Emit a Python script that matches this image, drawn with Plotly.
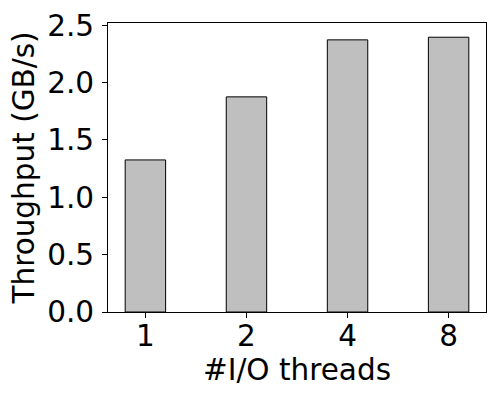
import plotly.graph_objs as go

THREADS = ["1", "2", "4", "8"]
THROUGHPUT = [1.326, 1.876, 2.373, 2.396]
Y_TICKS = [0.0, 0.5, 1.0, 1.5, 2.0, 2.5]

FONT = "DejaVu Sans"
SIZE = 29.5

fig = go.Figure()
fig.add_trace(go.Bar(
    x=list(range(len(THREADS))), y=THROUGHPUT, width=0.4,
    marker=dict(color="#bfbfbf", line=dict(color="black", width=1)),
))
fig.layout = go.Layout(
    width=500, height=400,
    margin=dict(l=108, r=14, t=23, b=88),
    paper_bgcolor="white", plot_bgcolor="white",
    font=dict(family=FONT, size=SIZE, color="black"),
    showlegend=False,
    xaxis=dict(
        title=dict(text="#I/O threads", standoff=3, font=dict(size=SIZE)),
        tickmode="array", tickvals=list(range(len(THREADS))), ticktext=THREADS,
        tickfont=dict(size=SIZE), ticklabelstandoff=-7,
        range=[-0.37, 3.37], automargin=False,
        showline=True, linecolor="black", linewidth=1, mirror=True,
        ticks="outside", ticklen=5, tickcolor="black", showgrid=False, zeroline=False,
    ),
    yaxis=dict(
        title=dict(text="Throughput (GB/s)", standoff=3, font=dict(size=SIZE)),
        tickmode="array", tickvals=Y_TICKS, ticktext=[f"{v:.1f}" for v in Y_TICKS],
        tickfont=dict(size=SIZE), ticklabelstandoff=2,
        range=[0, 2.52], automargin=False,
        showline=True, linecolor="black", linewidth=1, mirror=True,
        ticks="outside", ticklen=5, tickcolor="black", showgrid=False, zeroline=False,
    ),
)
# drop the browser's default body margin so the chart sits at (0, 0)
fig.write_html("out.html", config={"displayModeBar": False},
               post_script="document.body.style.margin='0';")
